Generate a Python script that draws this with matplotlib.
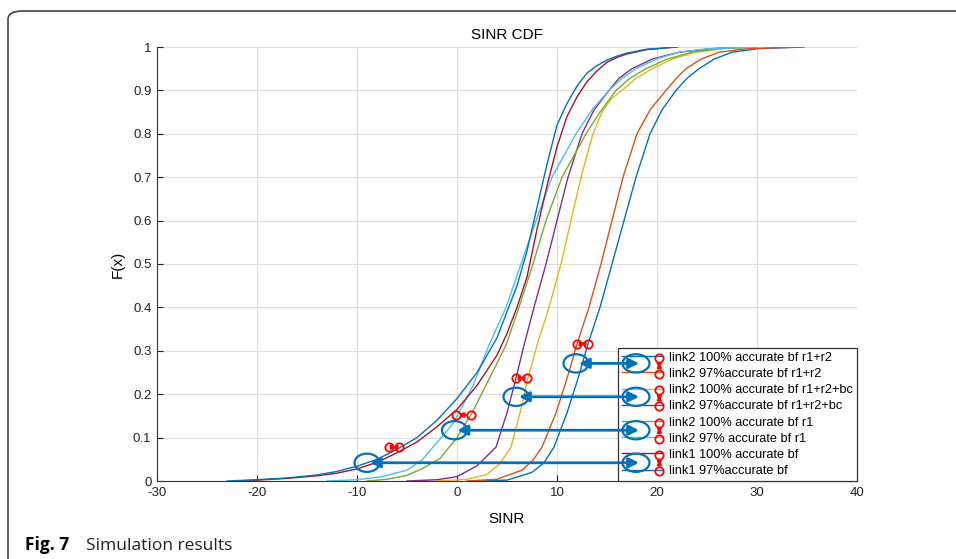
import matplotlib
matplotlib.use("Agg")
import matplotlib.pyplot as plt
from matplotlib.patches import Ellipse, FancyBboxPatch

plt.rcParams['font.family'] = ['Liberation Sans', 'DejaVu Sans']
plt.rcParams['axes.unicode_minus'] = False

# --- values (SINR in dB, CDF) ---
labels = [
    "link2 100% accurate bf r1+r2",
    "link2 97%accurate bf r1+r2",
    "link2 100% accurate bf r1+r2+bc",
    "link2 97%accurate bf r1+r2+bc",
    "link2 100% accurate bf r1",
    "link2 97% accurate bf r1",
    "link1 100% accurate bf",
    "link1 97%accurate bf",
]
colors = ["#0072BD", "#D95319", "#EDB120", "#7E2F8E",
          "#77AC30", "#4DBEEE", "#A2142F", "#0072BD"]

sinr_l2_100_r1r2 = [2, 5, 7.5, 8.7, 9.7, 11.0, 12.1, 13.1, 14.3, 15.5, 16.7, 17.9, 19.3, 20.5, 21.9, 23.0, 24.2, 25.7, 27.5, 30, 34.7]
cdf_l2_100_r1r2 = [0, 0.002, 0.02, 0.042, 0.078, 0.157, 0.236, 0.316, 0.4, 0.5, 0.6, 0.7, 0.8, 0.855, 0.9, 0.928, 0.95, 0.972, 0.988, 0.996, 1.0]

sinr_l2_97_r1r2 = [1, 4, 6.5, 7.6, 8.5, 9.9, 11.0, 12.0, 13.2, 14.4, 15.5, 16.6, 18.0, 19.3, 20.9, 21.9, 22.9, 24.4, 26.2, 29, 34.2]
cdf_l2_97_r1r2 = [0, 0.004, 0.025, 0.048, 0.078, 0.157, 0.236, 0.316, 0.4, 0.5, 0.6, 0.7, 0.8, 0.855, 0.9, 0.927, 0.95, 0.972, 0.988, 0.996, 1.0]

sinr_l2_100_bc = [-2, 1, 3, 4.3, 5.4, 6.3, 7.1, 8.0, 9.2, 10.4, 11.4, 12.4, 13.6, 14.5, 15.4, 16.5, 17.9, 19.5, 21.5, 23.9, 27, 30]
cdf_l2_100_bc = [0, 0.004, 0.015, 0.04, 0.078, 0.157, 0.237, 0.313, 0.4, 0.5, 0.6, 0.7, 0.8, 0.85, 0.88, 0.9, 0.928, 0.95, 0.972, 0.988, 0.997, 1.0]

sinr_l2_97_bc = [-5, -2, 0, 2, 3.9, 5.0, 5.9, 6.7, 7.7, 8.9, 10.0, 11.1, 12.5, 13.7, 15.2, 16.2, 17.5, 19.5, 22.2, 26, 30]
cdf_l2_97_bc = [0, 0.003, 0.01, 0.035, 0.078, 0.157, 0.237, 0.313, 0.4, 0.5, 0.6, 0.7, 0.8, 0.855, 0.9, 0.928, 0.95, 0.972, 0.988, 0.997, 1.0]

sinr_l2_100_r1 = [-9, -7, -5, -3.5, -1.7, 0, 1.5, 3.1, 4.9, 6.2, 7.6, 8.9, 10.5, 12.9, 14.3, 15.9, 17.3, 18.9, 21, 23.5, 26, 30]
cdf_l2_100_r1 = [0, 0.004, 0.013, 0.028, 0.052, 0.1, 0.157, 0.23, 0.313, 0.4, 0.5, 0.6, 0.7, 0.8, 0.85, 0.9, 0.928, 0.95, 0.972, 0.988, 0.996, 1.0]

sinr_l2_97_r1 = [-13, -10, -7.5, -5, -3.5, -2.4, -1.2, -0.4, 0.6, 1.6, 3.2, 4.9, 6.4, 7.9, 9.5, 11.9, 13.5, 15.2, 16.5, 17.9, 20, 22.2, 25, 30]
cdf_l2_97_r1 = [0, 0.003, 0.01, 0.025, 0.048, 0.078, 0.11, 0.133, 0.175, 0.22, 0.313, 0.4, 0.5, 0.6, 0.7, 0.8, 0.855, 0.9, 0.928, 0.95, 0.973, 0.988, 0.996, 1.0]

sinr_l1_100 = [-22, -20, -17, -14, -12, -10, -8, -6, -4, -2, 0, 2, 4, 5, 6, 7, 8, 9, 10, 11, 12, 13, 14, 15, 16, 17, 19, 22]
cdf_l1_100 = [0, 0.002, 0.006, 0.012, 0.018, 0.028, 0.043, 0.065, 0.09, 0.125, 0.165, 0.22, 0.29, 0.34, 0.40, 0.47, 0.58, 0.68, 0.77, 0.84, 0.885, 0.92, 0.945, 0.965, 0.976, 0.984, 0.994, 1.0]

sinr_l1_97 = [-23, -20, -17, -14, -12, -10, -8, -6, -4, -2, 0, 2, 4, 5, 6, 7, 8, 9, 10, 11, 12, 13, 14, 15, 16, 17, 19, 22]
cdf_l1_97 = [0, 0.003, 0.007, 0.014, 0.022, 0.034, 0.05, 0.073, 0.1, 0.14, 0.19, 0.25, 0.33, 0.39, 0.45, 0.53, 0.63, 0.73, 0.82, 0.87, 0.91, 0.94, 0.957, 0.97, 0.979, 0.986, 0.995, 1.0]

all_sinr = [sinr_l2_100_r1r2, sinr_l2_97_r1r2, sinr_l2_100_bc, sinr_l2_97_bc,
            sinr_l2_100_r1, sinr_l2_97_r1, sinr_l1_100, sinr_l1_97]
all_cdf = [cdf_l2_100_r1r2, cdf_l2_97_r1r2, cdf_l2_100_bc, cdf_l2_97_bc,
           cdf_l2_100_r1, cdf_l2_97_r1, cdf_l1_100, cdf_l1_97]

# annotation marks: red gap markers (x left, x right, F) and blue ellipses (x, F)
gap_left = [12.0, 5.9, -0.1, -6.8]
gap_right = [13.1, 7.0, 1.4, -5.8]
gap_y = [0.316, 0.237, 0.152, 0.078]
ell_x = [11.9, 5.9, -0.25, -9.0]
ell_y = [0.271, 0.194, 0.117, 0.042]
leg_ell_x = 17.9

blue = "#0072BD"

fig = plt.figure(figsize=(9.56, 5.59), dpi=100)
ax = fig.add_axes([157 / 956, 1 - 481 / 559, 700 / 956, 434 / 559])

for xs, ys, c, lab in zip(all_sinr, all_cdf, colors, labels):
    ax.plot(xs, ys, color=c, lw=1.0, label=lab)

ax.set_xlim(-30, 40)
ax.set_ylim(0, 1)
ax.set_xticks(range(-30, 41, 10))
ax.set_yticks([i / 10 for i in range(11)])
ax.set_yticklabels(["0", "0.1", "0.2", "0.3", "0.4", "0.5", "0.6", "0.7", "0.8", "0.9", "1"])
ax.tick_params(direction='in', length=4, width=0.8, labelsize=9.5, pad=4, colors='#222222')
ax.grid(True, color='#dddddd', lw=0.8)
ax.set_axisbelow(True)
for s in ['top', 'right']:
    ax.spines[s].set_visible(False)
for s in ['left', 'bottom']:
    ax.spines[s].set_color('#333333')
    ax.spines[s].set_linewidth(0.8)

ax.set_title("SINR CDF", fontsize=11, pad=6)
ax.set_xlabel("SINR", fontsize=11, labelpad=10)
ax.set_ylabel("F(x)", fontsize=11, labelpad=6)

leg = ax.legend(loc='lower right', bbox_to_anchor=(1.0, 0.0), fontsize=9.2,
                handlelength=3.1, handletextpad=0.6, labelspacing=0.33,
                borderpad=0.3, borderaxespad=0.0, fancybox=False,
                edgecolor='#333333', framealpha=1)
leg.get_frame().set_linewidth(0.9)
leg.set_zorder(5)

# red gap markers in the plot
for xl, xr, yy in zip(gap_left, gap_right, gap_y):
    ax.plot([xl, xr], [yy, yy], 'o', mfc='none', mec='red', ms=6, mew=1.3, zorder=8)
    ax.annotate('', xy=(xl + 0.3, yy), xytext=(xr - 0.3, yy),
                arrowprops=dict(arrowstyle='<|-|>', color='red', lw=1.4,
                                mutation_scale=6, shrinkA=0, shrinkB=0), zorder=8)

# blue ellipses + arrows to the legend
for ex, ey in zip(ell_x, ell_y):
    ax.add_patch(Ellipse((ex, ey), 2.5, 0.042, fill=False, ec=blue, lw=1.6, zorder=7))
    ax.add_patch(Ellipse((leg_ell_x, ey), 2.7, 0.042, fill=False, ec=blue, lw=1.6, zorder=7))
    ax.annotate('', xy=(ex + 0.3, ey), xytext=(leg_ell_x + 0.3, ey),
                arrowprops=dict(arrowstyle='<|-|>', color=blue, lw=2.0,
                                mutation_scale=15, shrinkA=0, shrinkB=0), zorder=7)

# red markers on the legend samples
fig.canvas.draw()
r = fig.canvas.get_renderer()
to_ax = ax.transAxes.inverted()
rows = []
for t in leg.get_texts():
    bb = t.get_window_extent(r)
    px = bb.x0 - 10
    py = (bb.y0 + bb.y1) / 2
    rows.append(to_ax.transform((px, py)))
for k in range(0, 8, 2):
    (x1, y1), (x2, y2) = rows[k], rows[k + 1]
    ax.plot([x1, x2], [y1, y2], 'o', mfc='none', mec='red', ms=6, mew=1.3,
            transform=ax.transAxes, clip_on=False, zorder=8)
    ax.annotate('', xy=(x1, y1 - 0.012), xytext=(x2, y2 + 0.012),
                xycoords='axes fraction', textcoords='axes fraction',
                arrowprops=dict(arrowstyle='<|-|>', color='red', lw=1.3,
                                mutation_scale=6, shrinkA=0, shrinkB=0), zorder=8)

# outer frame and caption
frame = FancyBboxPatch((8 / 956, -0.1), 1.2, 1.1 - 11 / 559,
                       boxstyle="round,pad=0,rounding_size=0.015",
                       transform=fig.transFigure, fill=False, ec='#444444', lw=1.2)
fig.patches.append(frame)
fig.text(25 / 956, 1 - 550 / 559, "Fig. 7", fontsize=12.5, fontweight='bold',
         family=['Open Sans', 'DejaVu Sans'], va='baseline')
fig.text(86 / 956, 1 - 550 / 559, "Simulation results", fontsize=12.5,
         family=['Open Sans', 'DejaVu Sans'], va='baseline', color='#222222')

fig.savefig("out.png", dpi=100)
